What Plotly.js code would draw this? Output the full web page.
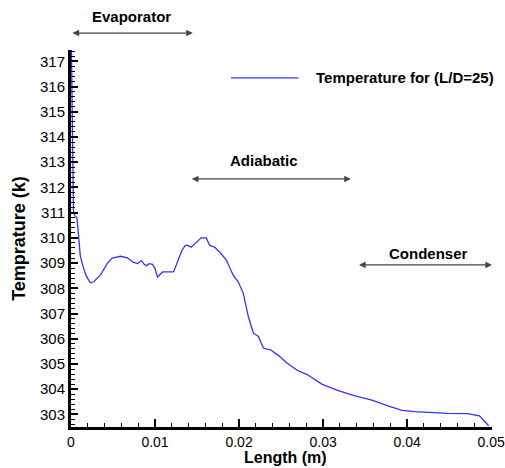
<!DOCTYPE html>
<html>
<head>
<meta charset="utf-8">
<script src="https://cdn.plot.ly/plotly-3.0.1.min.js"></script>
<style>html,body{margin:0;padding:0;background:#fff;}#chart{width:505px;height:468px;}</style>
</head>
<body>
<div id="chart"></div>
<script>
const lengthM = [0.00005,0.0001,0.00015,0.0002,0.00025,0.0003,0.0005,0.0007,0.0009,0.0011,0.0014,0.0018,0.0023,0.0027,0.0035,0.0043,0.0049,0.0059,0.0067,0.0074,0.0079,0.0082,0.0084,0.0087,0.009,0.0093,0.0097,0.01,0.0103,0.0105,0.0109,0.0114,0.0122,0.0126,0.0132,0.0136,0.0139,0.0143,0.0149,0.0155,0.0161,0.0165,0.0171,0.0177,0.0185,0.0193,0.0199,0.0205,0.0211,0.0217,0.0223,0.0229,0.0233,0.0237,0.0247,0.0257,0.0269,0.0281,0.0299,0.0319,0.0338,0.0358,0.0378,0.0394,0.0409,0.0429,0.0448,0.0472,0.0486,0.0492,0.0497];
const temperature = [317.5,316.2,314.5,313.0,311.8,311.0,310.85,310.8,310.1,309.3,308.9,308.5,308.22,308.26,308.52,308.98,309.2,309.27,309.21,309.04,308.98,309.04,309.1,308.95,308.9,308.98,308.95,308.78,308.45,308.52,308.65,308.65,308.65,308.98,309.5,309.7,309.7,309.63,309.83,310.0,310.0,309.7,309.63,309.44,309.11,308.52,308.26,307.8,306.88,306.22,306.09,305.63,305.59,305.57,305.33,305.04,304.75,304.58,304.19,303.93,303.73,303.57,303.33,303.16,303.11,303.07,303.04,303.03,302.94,302.74,302.55];
const seriesName = 'Temperature for (L/D=25)';
const regionNames = ['Evaporator','Adiabatic','Condenser'];
const regionStart = [0, 0.0142, 0.0341];
const regionEnd = [0.0145, 0.0333, 0.0501];
const regionLabelX = [0.0072, 0.023, 0.0425];
const xTitle = 'Length (m)';
const yTitle = 'Temprature (k)';

const trace = {x: lengthM, y: temperature, type: 'scatter', mode: 'lines', line: {color: '#3333ff', width: 1.3}, showlegend: false, name: seriesName};

const arrowY = [1.045, 0.658, 0.430];
const labelY = [1.090, 0.708, 0.459];
const annotations = [];
regionNames.forEach((n, i) => {
  annotations.push({xref: 'x', yref: 'paper', x: regionEnd[i], y: arrowY[i], axref: 'x', ayref: 'paper', ax: regionStart[i], ay: arrowY[i],
    showarrow: true, arrowside: 'end+start', arrowhead: 2, arrowsize: 1.1, arrowwidth: 1.2, arrowcolor: '#444', text: ''});
  annotations.push({xref: 'x', yref: 'paper', x: regionLabelX[i], y: labelY[i], showarrow: false, text: '<b>' + n + '</b>',
    font: {family: 'Arial, Liberation Sans', size: 15, color: '#000'}, xanchor: 'center', yanchor: 'middle'});
});
annotations.push({xref: 'paper', yref: 'paper', x: 0.51, y: -0.082, showarrow: false, xanchor: 'center', yanchor: 'middle', borderpad: 0, text: '<b>' + xTitle + '</b>',
  font: {family: 'Arial, Liberation Sans', size: 16, color: '#000'}});
annotations.push({xref: 'paper', yref: 'paper', x: 0.577, y: 0.926, showarrow: false, xanchor: 'left', yanchor: 'middle', text: '<b>' + seriesName + '</b>',
  font: {family: 'Arial, Liberation Sans', size: 15, color: '#000'}});

const shapes = [{type: 'line', xref: 'paper', yref: 'paper', x0: 0.38, x1: 0.54, y0: 0.926, y1: 0.926, line: {color: '#3333ff', width: 1.3}}];

const layout = {
  width: 505, height: 468,
  margin: {l: 71, r: 13, t: 50, b: 41},
  paper_bgcolor: '#fff', plot_bgcolor: '#fff',
  font: {family: 'Arial, Liberation Sans', size: 14, color: '#000'},
  xaxis: {range: [0, 0.0501], tickvals: [0, 0.01, 0.02, 0.03, 0.04, 0.05], ticktext: ['0','0.01','0.02','0.03','0.04','0.05'],
    showgrid: false, zeroline: false, showline: true, linewidth: 3, linecolor: '#000', ticks: 'inside', ticklen: 8, tickwidth: 2, tickcolor: '#000',
    minor: {dtick: 0.002, ticks: 'inside', ticklen: 4, tickwidth: 1, tickcolor: '#000'},
    tickfont: {size: 14}},
  yaxis: {range: [302.5, 317.45], dtick: 1, showgrid: false, zeroline: false, showline: true, linewidth: 3, linecolor: '#000', ticks: 'inside', ticklen: 7, tickwidth: 2, tickcolor: '#000',
    minor: {dtick: 0.2, ticks: 'inside', ticklen: 4, tickwidth: 1, tickcolor: '#000'},
    title: {text: '<b>' + yTitle + '</b>', font: {size: 18}, standoff: 10}, tickfont: {size: 15}},
  annotations: annotations,
  shapes: shapes
};
Plotly.newPlot('chart', [trace], layout, {displayModeBar: false, staticPlot: true});
</script>
</body>
</html>
